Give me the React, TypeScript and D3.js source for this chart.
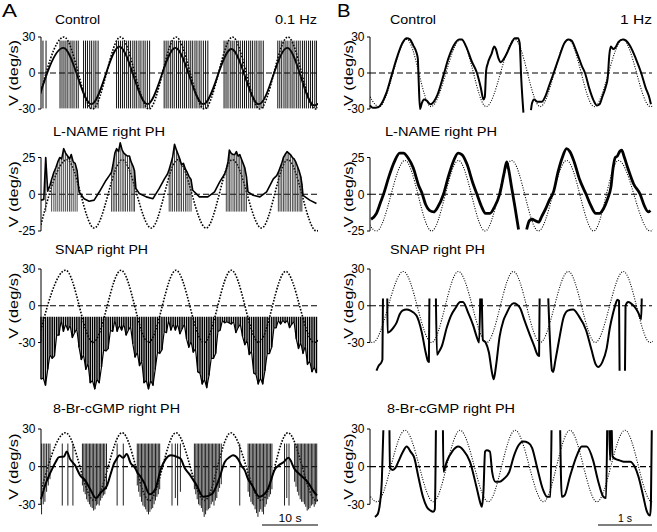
import React from "react";
import * as d3 from "d3";

type P = [number, number];

// ---------------- Column A (0.1 Hz), time in seconds ----------------
const timeDomainA: [number, number] = [0, 49.3];
const timeDomainB: [number, number] = [0, 5.22];

// stimulus extrema (peaks / troughs)
const controlA_stim: P[] = [[-0.8,-30],[4.1,30],[9.2,-30],[14.2,30],[19.3,-30],[24.1,30],[29.2,-30],[34.2,30],[39.1,-30],[44.1,30],[49.0,-30],[54,30]];
const lnameA_stim: P[] = [[-0.3,-25],[4.66,23.5],[9.5,-23],[14.5,23.5],[19.7,-23],[24.4,23.5],[29.5,-23],[34.2,23.5],[39.4,-23],[44.1,23.5],[49.2,-25],[54,23]];
const snapA_stim: P[] = [[-0.6,-30],[4.4,29],[9.3,-30],[14.3,29],[19.2,-30],[24.1,29],[29.1,-30],[34.0,29],[38.9,-30],[43.7,28],[48.8,-30],[53.8,29]];
const cgmpA_stim: P[] = [[-0.5,-28],[4.4,27],[9.5,-27],[14.5,27],[19.35,-27],[24.1,27],[29.2,-27],[33.9,27],[39.4,-27],[44.1,27],[49.2,-27],[54,27]];

// Control A: slow-phase eye velocity and fast-phase times (clipped both ways)
const controlA_slow: P[] = [[-0.8,-27],[4.0,21],[9.0,-26],[14.0,22],[19.0,-26],[24.0,21],[29.0,-26],[34.0,20],[38.9,-26],[44.0,21],[48.8,-27],[53.8,20]];
const controlA_fast: number[] = [0.35,0.9,3.4,3.75,4.1,4.45,4.8,5.2,5.55,5.9,6.3,6.65,7.6,7.95,8.3,8.7,9.05,9.45,9.8,10.2,13.5,13.85,14.2,14.55,14.9,15.3,15.65,16.0,16.4,16.75,17.1,17.5,17.85,18.25,18.6,19.0,19.4,22.0,22.35,22.7,23.1,23.45,23.8,24.2,24.55,24.9,25.3,25.65,26.0,26.4,26.75,27.1,27.5,27.85,28.25,28.6,29.0,29.4,29.8,32.7,33.05,33.4,33.8,34.15,34.5,34.9,35.25,35.6,36.0,36.35,36.7,37.1,37.45,37.8,38.2,38.55,38.95,39.3,39.7,42.3,42.65,43.0,43.4,43.75,44.1,44.5,44.85,45.2,45.6,45.95,46.3,46.7,47.05,47.4,47.8,48.15,48.5,48.9,49.2];
const controlA_range: [number, number] = [-29.5, 27];

// L-NAME A: slow phase in gaps, fast phases [t, top] clipped at bottom
const lnameA_slow: P[] = [[0,-4],[0.5,-3.5],[1.2,2],[1.6,6],[6.8,1.5],[7.7,-3],[8.6,-4.7],[9.5,-4],[10.4,1.5],[11.6,9.4],[12.2,12.7],[16.95,4],[17.55,0.5],[18.8,-1.8],[20.0,-3],[21.1,3.8],[22.05,10.5],[22.6,13.8],[27.1,2.7],[28.3,-1.8],[29.8,-1.8],[31.0,1.6],[31.9,8.3],[32.8,13.8],[36.97,1.6],[37.9,-0.7],[39.1,-1.8],[40.3,1.6],[41.5,10.5],[42.1,12.7],[46.8,-0.7],[48.0,-4],[49.2,-6.3]];
const lnameA_fast: P[] = [[0.84,25],[1.9,10],[2.3,15],[2.65,18],[3.0,22],[3.35,25],[3.7,24],[4.05,31],[4.4,28],[4.75,26],[5.1,24],[5.4,27],[5.75,22],[6.1,21],[6.45,16],
  [12.6,15],[12.9,21],[13.2,28],[13.5,31],[13.85,29],[14.15,35],[14.5,30],[14.8,28],[15.1,27],[15.45,26],[15.8,26],[16.1,22],[16.45,19],[16.7,16],
  [22.9,17],[23.2,21],[23.5,25],[23.85,34],[24.2,30],[24.5,27],[24.8,24],[25.1,20],[25.45,21],[25.8,17],[26.1,15],[26.45,12],[26.8,10],
  [33.1,17],[33.4,22],[33.65,30],[33.95,28],[34.3,27],[34.6,27],[34.9,29],[35.2,26],[35.5,27],[35.8,24],[36.1,21],[36.4,18],[36.7,12],
  [42.4,15],[42.7,18],[43.0,21],[43.3,25],[43.6,27],[43.95,29],[44.25,28],[44.55,27],[44.9,25],[45.2,24],[45.5,22],[45.8,19],[46.1,16],[46.4,12],[46.6,7]];
const lnameA_clip = -11.8;

// SNAP A: fast phases [t, bottom] clipped at top
const snapA_fast: P[] = [[0.0,-60],[0.4,-59],[0.8,-65],[1.2,-52],[1.6,-40],[2.0,-43],[2.4,-41],[2.8,-24],[3.2,-24],[3.6,-12],[4.0,-21],[4.4,-15],[4.8,-20],[5.2,-16],[5.6,-26],[6.0,-22],[6.4,-19],[6.8,-34],[7.2,-44],[7.6,-40],[8.0,-52],[8.4,-47],[8.8,-63],[9.2,-61],[9.6,-68],[10.0,-60],[10.4,-63],[10.8,-50],[11.2,-36],[11.6,-37],[12.0,-35],[12.4,-20],[12.8,-21],[13.2,-12],[13.6,-21],[14.0,-16],[14.4,-20],[14.8,-15],[15.2,-24],[15.6,-20],[16.0,-17],[16.4,-31],[16.8,-42],[17.2,-38],[17.6,-49],[18.0,-45],[18.4,-63],[18.8,-61],[19.2,-68],[19.6,-61],[20.0,-65],[20.4,-52],[20.8,-38],[21.2,-39],[21.6,-36],[22.0,-21],[22.4,-22],[22.8,-12],[23.2,-20],[23.6,-15],[24.0,-20],[24.4,-15],[24.8,-23],[25.2,-19],[25.6,-15],[26.0,-27],[26.4,-34],[26.8,-29],[27.2,-38],[27.6,-35],[28.0,-54],[28.4,-55],[28.8,-64],[29.2,-60],[29.6,-67],[30.0,-57],[30.4,-43],[30.8,-43],[31.2,-39],[31.6,-21],[32.0,-20],[32.4,-12],[32.8,-14],[33.2,-13],[33.6,-14],[34.0,-15],[34.4,-13],[34.8,-22],[35.2,-18],[35.6,-15],[36.0,-25],[36.4,-32],[36.8,-28],[37.2,-40],[37.6,-37],[38.0,-55],[38.4,-56],[38.8,-64],[39.2,-59],[39.6,-64],[40.0,-53],[40.4,-39],[40.8,-39],[41.2,-34],[41.6,-18],[42.0,-18],[42.4,-12],[42.8,-15],[43.2,-12],[43.6,-14],[44.0,-12],[44.4,-18],[44.8,-15],[45.2,-13],[45.6,-27],[46.0,-35],[46.4,-30],[46.8,-39],[47.2,-33],[47.6,-48],[48.0,-45],[48.4,-54],[48.8,-50],[49.2,-55]];
const snapA_clip = -9;

// 8-Br-cGMP A: slow phase and fast phases [t, bottom] clipped at top
const cgmpA_slow: P[] = [[0,-26],[0.8,-14],[1.7,-4.6],[2.6,3.5],[3.2,7.6],[4.1,8],[4.6,12],[5.2,6],[6.1,1],[7.0,-7],[7.9,-11],[8.8,-18],[9.8,-25],[10.8,-20],[11.8,-15],[12.5,-5],[13.0,2],[13.5,6],[14.0,9],[14.7,7],[15.3,10],[16.0,3],[16.8,-1],[17.2,-4.6],[17.8,-8],[18.4,-12.7],[19.4,-22],[20.4,-18],[21.4,-2],[22.3,6.2],[23.2,9],[24.4,7.6],[25.0,6],[25.6,-0.5],[26.5,-6],[27.1,-10],[27.7,-14],[29.0,-24],[30.5,-22],[31.8,-10],[32.8,3.5],[33.7,7.6],[34.3,9],[35.2,6],[35.8,0.8],[36.4,-3],[37.0,-10],[37.6,-14],[39.0,-24],[40.5,-18],[41.8,-2],[42.4,0.8],[43.3,3.5],[44.2,7],[45.3,-2],[46.5,-7.3],[47.7,-12.7],[48.9,-21],[49.3,-23]];
const cgmpA_fast: P[] = [[0.1,-38],[0.4,-30],[0.7,-28],[1.0,-20],[1.3,-15],[1.6,-10],[3.8,-31],[4.8,-31],[5.7,-31],
  [7.4,-15],[7.65,-20],[7.9,-22],[8.15,-26],[8.4,-28],[8.65,-30],[8.9,-32],[9.15,-33],[9.4,-35],[9.65,-34],[9.9,-31],[10.15,-30],[10.4,-31],[10.65,-27],[10.9,-25],[11.15,-23],[11.4,-22],[11.7,-18],[13.6,-31],[14.7,-31],
  [17.2,-15],[17.45,-20],[17.7,-24],[17.95,-28],[18.2,-31],[18.45,-32],[18.7,-34],[18.95,-36],[19.2,-38],[19.45,-36],[19.7,-34],[19.95,-33],[20.2,-30],[20.45,-27],[20.7,-24],[20.95,-22],[21.2,-18],[23.4,-31],[24.0,-25],[24.4,-31],[24.9,-20],
  [27.4,-18],[27.65,-22],[27.9,-26],[28.15,-30],[28.4,-31],[28.65,-33],[28.9,-36],[29.15,-40],[29.4,-38],[29.65,-35],[29.9,-34],[30.15,-33],[30.4,-30],[30.65,-28],[30.9,-31],[31.15,-27],[31.4,-25],[31.65,-20],[31.9,-17],[32.2,-14],[35.5,-31],
  [37.0,-20],[37.25,-24],[37.5,-28],[37.75,-30],[38.0,-31],[38.25,-34],[38.5,-37],[38.75,-40],[39.0,-36],[39.25,-34],[39.5,-36],[39.75,-38],[40.0,-32],[40.25,-30],[40.5,-26],[40.75,-24],[41.0,-22],[41.25,-18],[43.5,-31],[43.9,-25],[44.3,-31],
  [45.3,-12],[45.55,-16],[45.8,-20],[46.05,-23],[46.3,-26],[46.55,-28],[46.8,-28],[47.05,-30],[47.3,-32],[47.55,-35],[47.8,-34],[48.05,-33],[48.3,-31],[48.55,-30],[48.8,-32],[49.05,-30],[49.25,-28]];
const cgmpA_clip = 18.4;

// ---------------- Column B (1 Hz) ----------------
const controlB_stim: P[] = [[-0.33,28],[0.17,-28],[0.68,28],[1.13,-28],[1.68,28],[2.15,-28],[2.68,28],[3.15,-28],[3.67,28],[4.15,-28],[4.68,28],[5.19,-28],[5.7,28]];
const lnameB_stim: P[] = [[-0.38,23],[0.12,-25],[0.648,23],[1.14,-25],[1.636,23],[2.13,-25],[2.623,23],[3.117,-25],[3.64,23],[4.14,-25],[4.6,23],[5.185,-25],[5.7,23]];
const snapB_stim: P[] = [[-0.4,28],[0.05,-30],[0.617,28],[1.14,-30],[1.636,28],[2.16,-30],[2.654,28],[3.15,-30],[3.67,28],[4.17,-30],[4.69,28],[5.185,-30],[5.7,28]];
const cgmpB_stim: P[] = [[-0.4,29],[0.13,-28],[0.648,29],[1.173,-28],[1.667,29],[2.19,-28],[2.685,29],[3.21,-28],[3.7,29],[4.2,-28],[4.72,29],[5.216,-28],[5.7,29]];

const controlB_trace: P[][] = [
  [[0.0,-27],[0.05,-29],[0.15,-28.5],[0.22,-25],[0.30,-17],[0.40,-2],[0.50,13],[0.60,25],[0.68,29],[0.74,28],[0.80,23],[0.86,17],[0.885,12],[0.90,-5],[0.925,-30],[0.96,-25],[1.0,-22],[1.05,-23],[1.12,-26],[1.18,-24],[1.25,-18],[1.36,-2],[1.45,12],[1.55,23],[1.65,28],[1.70,28],[1.78,22],[1.88,10],[1.98,0],[2.05,-12],[2.10,-22],[2.125,-20],[2.15,2],[2.18,8],[2.25,16],[2.30,22],[2.33,20],[2.38,12],[2.42,9],[2.48,12],[2.55,18],[2.62,25],[2.68,29],[2.74,29],[2.77,25],[2.80,-5],[2.84,-33]],
  [[2.98,-31],[3.0,-25],[3.04,-22],[3.10,-24],[3.18,-24],[3.24,-20],[3.32,-10],[3.40,0],[3.50,13],[3.60,25],[3.67,28],[3.73,27],[3.82,18],[3.92,6],[3.98,0],[4.06,-13],[4.14,-23],[4.20,-27],[4.25,-26],[4.30,-20],[4.36,-12],[4.40,-4],[4.43,15],[4.46,22],[4.50,20],[4.54,21],[4.60,26],[4.68,28],[4.74,27],[4.82,22],[4.92,12],[5.02,0],[5.10,-12],[5.18,-22],[5.20,-26]],
];
const lnameB_trace: P[][] = [
  [[0.02,-17],[0.12,-13],[0.20,-5],[0.25,0],[0.35,12],[0.45,22],[0.55,28],[0.62,28],[0.70,25],[0.80,18],[0.90,6],[0.96,1],[1.03,-7],[1.10,-11],[1.18,-12],[1.25,-9],[1.36,0],[1.45,12],[1.55,23],[1.63,28],[1.70,27],[1.80,20],[1.90,8],[1.98,0],[2.06,-8],[2.14,-13],[2.22,-13],[2.30,-9],[2.40,0],[2.48,14],[2.53,22],[2.56,18],[2.62,5],[2.68,-8],[2.75,-24]],
  [[2.90,-24],[2.95,-18],[3.0,-17],[3.06,-18],[3.12,-19],[3.18,-15],[3.25,-10],[3.32,-4],[3.40,2],[3.48,15],[3.56,25],[3.64,31],[3.70,29],[3.78,22],[3.88,10],[4.0,0],[4.08,-7],[4.18,-13],[4.25,-13],[4.32,-10],[4.40,-3],[4.46,5],[4.50,18],[4.54,25],[4.58,26],[4.62,29],[4.66,30],[4.70,26],[4.78,17],[4.88,7],[5.0,0],[5.08,-8],[5.15,-12],[5.19,-11]],
];
const snapB_trace: P[][] = [
  [[0.12,-53],[0.16,-49],[0.2,-47],[0.23,-44],[0.24,6]],
  [[0.32,6],[0.325,-22],[0.37,-21],[0.43,-18],[0.49,-14],[0.55,-7],[0.6,-4],[0.68,-3],[0.75,-4],[0.86,-8],[0.96,-22],[1.03,-38],[1.07,-45],[1.09,-46],[1.10,6]],
  [[1.22,6],[1.24,-40],[1.27,-38],[1.33,-33],[1.42,-18],[1.50,-8],[1.58,-2],[1.67,3],[1.72,3],[1.82,-6],[1.91,-16],[1.98,-26],[2.02,-30],[2.04,6]],
  [[2.07,6],[2.09,-28],[2.14,-30],[2.2,-38],[2.26,-55],[2.29,-60],[2.33,-50],[2.40,-25],[2.47,-12],[2.53,-6],[2.60,0],[2.66,2],[2.72,1],[2.78,-2],[2.86,-12],[2.96,-24],[3.04,-33],[3.10,-40],[3.13,-41],[3.14,6]],
  [[3.30,6],[3.37,-53],[3.39,-54],[3.43,-45],[3.50,-28],[3.58,-10],[3.66,-4],[3.76,-3],[3.86,-8],[4.0,-20],[4.10,-36],[4.18,-48],[4.22,-50],[4.30,-46],[4.38,-35],[4.44,-18],[4.50,-6],[4.55,2],[4.58,5],[4.61,4],[4.62,-53]],
  [[4.72,-53],[4.73,0],[4.78,3],[4.83,2],[4.90,-1],[4.97,-6],[5.02,-11],[5.03,6]],
];
const cgmpB_trace: P[][] = [
  [[0.09,-40],[0.12,-39],[0.15,-37],[0.185,-29],[0.22,-10],[0.247,29]],
  [[0.36,29],[0.37,-1],[0.42,-2.6],[0.47,-1],[0.525,4],[0.60,11],[0.68,16],[0.75,12],[0.82,7],[0.895,-8],[0.98,-24],[1.05,-32],[1.12,-35],[1.17,-36],[1.2,-34],[1.22,29]],
  [[1.35,29],[1.36,-4],[1.42,4],[1.52,12],[1.636,16],[1.73,13],[1.85,4],[1.97,-16],[2.05,-30],[2.07,-32],[2.10,-20],[2.13,12],[2.16,13],[2.22,12],[2.26,-4],[2.32,-12],[2.40,-12],[2.47,-10],[2.58,-4],[2.66,8],[2.75,17],[2.84,20],[2.93,19],[3.0,15],[3.09,0],[3.2,-18],[3.28,-24],[3.34,-24],[3.36,29]],
  [[3.52,29],[3.55,-24],[3.60,-23],[3.70,-8],[3.83,9],[3.92,16],[4.01,16],[4.13,5],[4.22,-11],[4.32,-24],[4.37,-25],[4.39,29]],
  [[4.43,29],[4.445,5],[4.46,29]],
  [[4.475,29],[4.49,8],[4.55,6],[4.62,5],[4.70,4],[4.815,4],[4.9,0],[4.97,-8],[5.06,-24],[5.12,-35],[5.185,-39],[5.2,-30],[5.216,29]],
];

// ---------------- text ----------------
const rowTitles = ["Control", "L-NAME right PH", "SNAP right PH", "8-Br-cGMP right PH"];
const freqLabels = ["0.1 Hz", "1 Hz"];
const tickValues = [[30, 0, -30], [25, 0, -25], [30, 0, -30], [30, 0, -30]];
const tickLabels = [["30", "0", "-30"], ["25", "0", "-25"], ["30", "0", "-30"], ["30", "0", "-30"]];
const yLabel = "V (deg/s)";
const scaleBars = [{ len: 10, label: "10 s" }, { len: 1, label: "1 s" }];

// ---------------- layout ----------------
const FONT = "'Liberation Sans', Arial, Helvetica, sans-serif";
const colA = { axisX: 41, x1: 317, labelX: 13.5 };
const colB = { axisX: 370, x1: 652, labelX: 348 };
const rowsLayout = [
  { top: 37, bottom: 109, vmax: 30, titleY: 23.5 },
  { top: 157.5, bottom: 231, vmax: 25, titleY: 135.5 },
  { top: 269, bottom: 342.5, vmax: 30, titleY: 254 },
  { top: 429, bottom: 504.3, vmax: 30, titleY: 412.5 },
];
const titleLayout = [
  { ax: 55, aw: 45, bx: 390, bw: 46 },
  { ax: 53, aw: 112, bx: 385, bw: 112 },
  { ax: 55, aw: 93, bx: 390, bw: 95 },
  { ax: 53, aw: 127, bx: 387, bw: 128 },
];

export default function App() {
  const xA = d3.scaleLinear().domain(timeDomainA).range([colA.axisX, colA.x1]);
  const xB = d3.scaleLinear().domain(timeDomainB).range([colB.axisX, colB.x1]);
  const ys = rowsLayout.map((r) => d3.scaleLinear().domain([-r.vmax, r.vmax]).range([r.bottom, r.top]));

  const path = (x: any, y: any, data: P[], curve: any = d3.curveMonotoneX) =>
    d3.line<P>().x((d) => x(d[0])).y((d) => y(d[1])).curve(curve)(data) || "";

  const axis = (key: string, col: typeof colA, row: number) => {
    const y = ys[row];
    const tv = tickValues[row];
    return (
      <g key={key}>
        <line x1={col.axisX} x2={col.axisX} y1={y(tv[0])} y2={y(tv[2])} stroke="#000" strokeWidth={1} />
        {tv.map((v, i) => (
          <g key={i}>
            <line x1={col.axisX - 3} x2={col.axisX} y1={y(v)} y2={y(v)} stroke="#000" strokeWidth={1} />
            <text x={col.axisX - 5.5} y={y(v)} dy="0.36em" textAnchor="end" fontSize={12}>{tickLabels[row][i]}</text>
          </g>
        ))}
        <text transform={`translate(${col.labelX},${y(0)}) rotate(-90)`} textAnchor="middle" dy="0.36em" fontSize={13} textLength={66} lengthAdjust="spacingAndGlyphs">{yLabel}</text>
        <line x1={col.axisX} x2={col.x1} y1={y(0)} y2={y(0)} stroke="#000" strokeWidth={1.2} strokeDasharray="6 3" />
      </g>
    );
  };

  const stim = (key: string, x: any, y: any, data: P[], clip: string, wide: boolean) => (
    <path key={key} d={path(x, y, data)} fill="none" stroke="#000" strokeWidth={wide ? 1.6 : 1.1} strokeDasharray={wide ? "1.6 1.5" : "1 1.5"} clipPath={`url(#${clip})`} />
  );

  const segs = (key: string, x: any, y: any, data: P[][], w: number) => (
    <g key={key}>
      {data.map((s, i) => (
        <path key={i} d={path(x, y, s)} fill="none" stroke="#000" strokeWidth={w} strokeLinejoin="round" />
      ))}
    </g>
  );

  const yC = ys[0], yL = ys[1], yS = ys[2], yG = ys[3];
  const lnameMerged = [...lnameA_slow, ...lnameA_fast].sort((a, b) => a[0] - b[0]);

  return (
    <svg width={657} height={532} style={{ position: "absolute", left: 0, top: 0, background: "#fff" }} fontFamily={FONT}>
      <defs>
        <clipPath id="clipA"><rect x={colA.axisX} y={0} width={colA.x1 - colA.axisX + 1} height={532} /></clipPath>
        <clipPath id="clipB"><rect x={colB.axisX} y={0} width={colB.x1 - colB.axisX + 1} height={532} /></clipPath>
      </defs>
      <rect x={0} y={0} width={657} height={532} fill="#fff" />

      <text x={2} y={16.5} fontSize={18} textLength={15} lengthAdjust="spacingAndGlyphs">A</text>
      <text x={337} y={16.5} fontSize={18} textLength={13.5} lengthAdjust="spacingAndGlyphs">B</text>

      {rowTitles.map((t, i) => (
        <g key={i}>
          <text x={titleLayout[i].ax} y={rowsLayout[i].titleY} fontSize={12.5} textLength={titleLayout[i].aw} lengthAdjust="spacingAndGlyphs">{t}</text>
          <text x={titleLayout[i].bx} y={rowsLayout[i].titleY} fontSize={12.5} textLength={titleLayout[i].bw} lengthAdjust="spacingAndGlyphs">{t}</text>
        </g>
      ))}
      <text x={317} y={23.5} fontSize={12.5} textAnchor="end" textLength={42} lengthAdjust="spacingAndGlyphs">{freqLabels[0]}</text>
      <text x={652} y={23.5} fontSize={12.5} textAnchor="end" textLength={32} lengthAdjust="spacingAndGlyphs">{freqLabels[1]}</text>

      {[0, 1, 2, 3].map((r) => axis("aa" + r, colA, r))}
      {[0, 1, 2, 3].map((r) => axis("ab" + r, colB, r))}

      {/* stimuli */}
      {stim("s1", xA, yC, controlA_stim, "clipA", true)}
      {stim("s2", xA, yL, lnameA_stim, "clipA", true)}
      {stim("s3", xA, yS, snapA_stim, "clipA", true)}
      {stim("s4", xA, yG, cgmpA_stim, "clipA", true)}
      {stim("s5", xB, yC, controlB_stim, "clipB", false)}
      {stim("s6", xB, yL, lnameB_stim, "clipB", false)}
      {stim("s7", xB, yS, snapB_stim, "clipB", false)}
      {stim("s8", xB, yG, cgmpB_stim, "clipB", false)}

      {/* Control A */}
      <path d={path(xA, yC, controlA_slow)} fill="none" stroke="#000" strokeWidth={1.8} clipPath="url(#clipA)" />
      {controlA_fast.map((t, i) => (
        <line key={"cf" + i} x1={xA(t)} x2={xA(t)} y1={yC(controlA_range[0])} y2={yC(controlA_range[1])} stroke="#111" strokeWidth={1} />
      ))}

      {/* L-NAME A */}
      {lnameA_fast.map((d, i) => (
        <line key={"lf" + i} x1={xA(d[0])} x2={xA(d[0])} y1={yL(lnameA_clip)} y2={yL(d[1])} stroke="#333" strokeWidth={0.9} />
      ))}
      <path d={path(xA, yL, lnameMerged, d3.curveLinear)} fill="none" stroke="#000" strokeWidth={1.6} strokeLinejoin="round" />

      {/* SNAP A */}
      {snapA_fast.map((d, i) => (
        <line key={"sf" + i} x1={xA(d[0])} x2={xA(d[0])} y1={yS(snapA_clip)} y2={yS(d[1])} stroke="#000" strokeWidth={1.5} />
      ))}
      <path d={path(xA, yS, snapA_fast, d3.curveLinear)} fill="none" stroke="#000" strokeWidth={1.2} strokeLinejoin="round" />

      {/* 8-Br-cGMP A */}
      {cgmpA_fast.map((d, i) => (
        <line key={"gf" + i} x1={xA(d[0])} x2={xA(d[0])} y1={yG(cgmpA_clip)} y2={yG(d[1])} stroke="#222" strokeWidth={1} />
      ))}
      <path d={path(xA, yG, cgmpA_slow)} fill="none" stroke="#000" strokeWidth={2} />

      {/* Column B traces */}
      {segs("cb", xB, yC, controlB_trace, 2)}
      {segs("lb", xB, yL, lnameB_trace, 2.8)}
      {segs("sb", xB, yS, snapB_trace, 2)}
      {segs("gb", xB, yG, cgmpB_trace, 2)}

      {/* scale bars */}
      <line x1={xA(timeDomainA[1]) - (xA(scaleBars[0].len) - xA(0)) + 1} x2={xA(timeDomainA[1]) + 1} y1={525} y2={525} stroke="#000" strokeWidth={1.2} />
      <text x={xA(timeDomainA[1]) + 1 - (xA(scaleBars[0].len) - xA(0)) / 2} y={521.5} fontSize={11} textAnchor="middle" textLength={23} lengthAdjust="spacingAndGlyphs">{scaleBars[0].label}</text>
      <line x1={xB(timeDomainB[1]) - (xB(scaleBars[1].len) - xB(0))} x2={xB(timeDomainB[1])} y1={525} y2={525} stroke="#000" strokeWidth={1.2} />
      <text x={xB(timeDomainB[1]) - (xB(scaleBars[1].len) - xB(0)) / 2} y={521.5} fontSize={11} textAnchor="middle" textLength={14} lengthAdjust="spacingAndGlyphs">{scaleBars[1].label}</text>
    </svg>
  );
}
